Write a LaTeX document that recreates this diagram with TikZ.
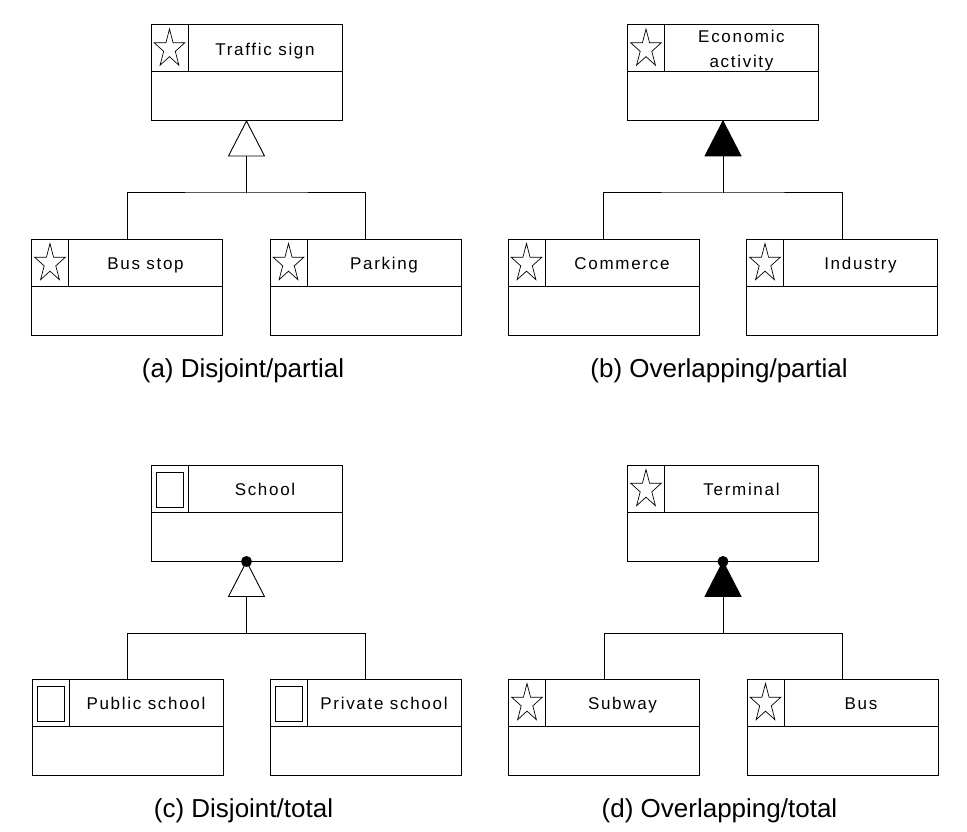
\documentclass[tikz,border=0pt]{standalone}
\usepackage{fontspec}
\newfontfamily\classfont[LetterSpace=10]{Liberation Sans}
\newfontfamily\captionfont{Liberation Sans}
\usetikzlibrary{shapes.geometric}

\tikzset{
  star icon/.pic={
    \draw[line width=.7pt,xscale=16,yscale=20] (-90:1)
      \foreach \i in {1,...,9}{ -- ({-90+36*\i}:{1-0.618*mod(\i,2)}) } -- cycle;
  },
  box icon/.pic={
    \draw[line width=1pt] (-13.5,-17.5) rectangle (13.5,17.5);
  }
}

% #1 label options, #2 name, #3 centre, #4 icon, #5 class name
\newcommand{\umlclass}[5][]{
  \node[class box] (#2) at (#3) {};
  \draw ([yshift=-47pt]#2.north west) -- ([yshift=-47pt]#2.north east);
  \draw ([xshift=37pt]#2.north west) -- ([xshift=37pt,yshift=-47pt]#2.north west);
  \path ([xshift=18.5pt,yshift=-24pt]#2.north west) pic {#4};
  \node[class name,#1] at ([xshift=114pt,yshift=-24pt]#2.north west) {#5};
}

\begin{document}
\begin{tikzpicture}[x=1pt,y=-1pt,line width=1pt,
  class box/.style={draw,rectangle,minimum width=191pt,minimum height=96pt,
    inner sep=0pt,outer sep=0pt},
  class name/.style={font=\classfont\fontsize{17}{25}\selectfont,
    inner sep=0pt,text height=12.3pt,text depth=0pt},
  gen open/.style={isosceles triangle,shape border rotate=90,
    isosceles triangle stretches,minimum width=36pt,minimum height=35pt,
    inner sep=0pt,outer sep=0pt,draw,fill=white,line width=.9pt},
  gen filled/.style={gen open,fill=black},
  gen dot/.style={circle,fill=black,inner sep=0pt,minimum size=11pt},
  caption/.style={font=\captionfont\fontsize{26}{30}\selectfont,anchor=base}]
  \useasboundingbox (0,0) rectangle (967,832);

  % (a) disjoint / partial
  \umlclass{trafficsign}{246.5,73}{star icon}{Traffic sign}
  \umlclass{busstop}{127,287.5}{star icon}{Bus stop}
  \umlclass{parking}{365.5,287.5}{star icon}{Parking}
  \node[gen open,anchor=apex] (gA) at (trafficsign.south) {};
  \coordinate (jA) at ([yshift=-37pt]gA.south);
  \draw (gA.south) -- (jA);
  \draw (busstop.north) |- (jA) -| (parking.north);
  \node[caption] (capA) at (243,377) {(a) Disjoint/partial};

  % (b) overlapping / partial
  \umlclass[align=center,text height=37.3pt]{economic}{723,73}{star icon}{Economic\\activity}
  \umlclass{commerce}{603.5,287.5}{star icon}{Commerce}
  \umlclass{industry}{842,287.5}{star icon}{Industry}
  \node[gen filled,anchor=apex] (gB) at (economic.south) {};
  \coordinate (jB) at ([yshift=-37pt]gB.south);
  \draw (gB.south) -- (jB);
  \draw (commerce.north) |- (jB) -| (industry.north);
  \node[caption] (capB) at (719,377) {(b) Overlapping/partial};

  % (c) disjoint / total
  \umlclass{school}{246.5,513.5}{box icon}{School}
  \umlclass{publicschool}{127.5,727.5}{box icon}{Public school}
  \umlclass{privateschool}{365.5,727.5}{box icon}{Private school}
  \node[gen open,anchor=apex] (gC) at (school.south) {};
  \node[gen dot] (dC) at (school.south) {};
  \coordinate (jC) at ([yshift=-37pt]gC.south);
  \draw (gC.south) -- (jC);
  \draw (publicschool.north) |- (jC) -| (privateschool.north);
  \node[caption] (capC) at (243.5,817) {(c) Disjoint/total};

  % (d) overlapping / total
  \umlclass{terminal}{723,513.5}{star icon}{Terminal}
  \umlclass{subway}{604,727.5}{star icon}{Subway}
  \umlclass{bus}{842.5,727.5}{star icon}{Bus}
  \node[gen filled,anchor=apex] (gD) at (terminal.south) {};
  \node[gen dot] (dD) at (terminal.south) {};
  \coordinate (jD) at ([yshift=-37pt]gD.south);
  \draw (gD.south) -- (jD);
  \draw (subway.north) |- (jD) -| (bus.north);
  \node[caption] (capD) at (719.5,817) {(d) Overlapping/total};
\end{tikzpicture}
\end{document}
